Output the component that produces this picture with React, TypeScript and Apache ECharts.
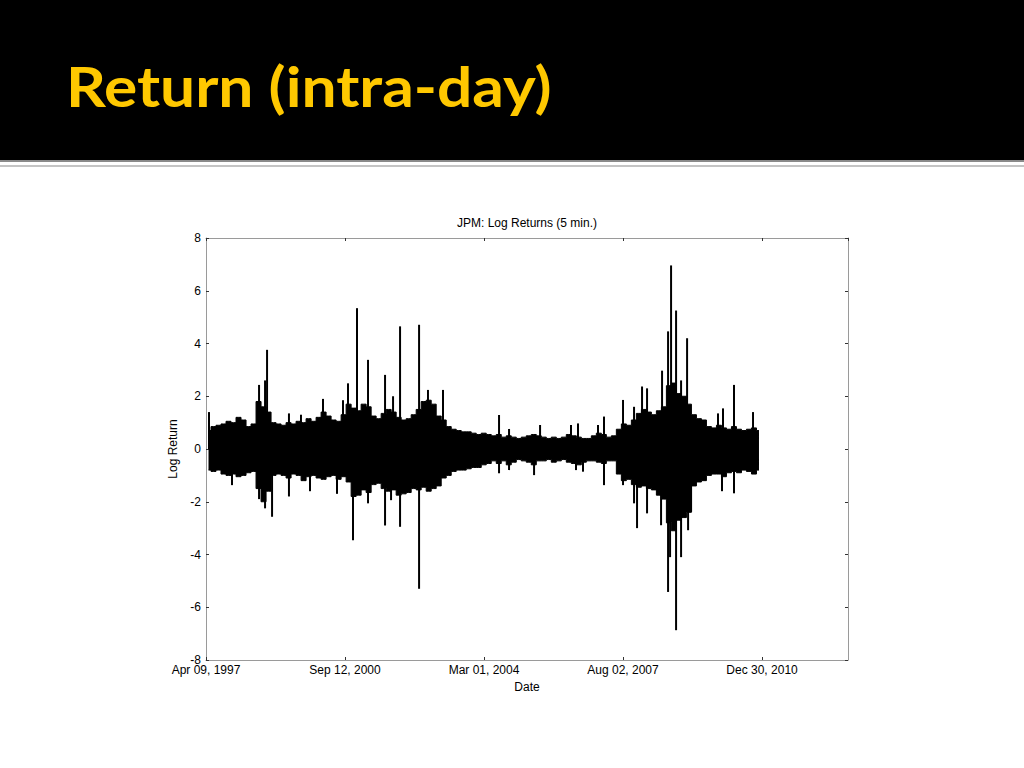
import React, { useEffect, useRef } from "react";
import * as echarts from "echarts";

// ---- data ----
const slideTitle = "Return (intra-day)";
const chartTitle = "JPM: Log Returns (5 min.)";
const xName = "Date";
const yName = "Log Return";
const xTickLabels = ["Apr 09, 1997", "Sep 12, 2000", "Mar 01, 2004", "Aug 02, 2007", "Dec 30, 2010"];
const yTicks = [-8, -6, -4, -2, 0, 2, 4, 6, 8];

// observation index per tick label, bin width (index units)
const tickStep = 1250;
const axisMax = 5773;
const binStep = 45;

// upper envelope of the dense core, one value per bin
const coreHigh = [
  0.70, 0.85, 0.90, 0.95, 1.05, 1.00, 1.20, 1.10, 0.85, 0.95,
  1.80, 1.60, 1.40, 1.00, 0.95, 0.90, 1.00, 0.95, 1.05, 1.00,
  1.15, 1.05, 1.20, 1.40, 1.25, 1.10, 1.05, 1.30, 1.70, 1.55,
  1.45, 1.70, 1.60, 1.25, 1.15, 1.35, 1.50, 1.40, 1.20, 1.10,
  1.15, 1.30, 1.50, 1.80, 1.85, 1.70, 1.25, 1.10, 0.85, 0.75,
  0.70, 0.65, 0.65, 0.60, 0.55, 0.60, 0.55, 0.50, 0.55, 0.45,
  0.50, 0.45, 0.40, 0.45, 0.50, 0.55, 0.50, 0.45, 0.40, 0.45,
  0.40, 0.45, 0.55, 0.50, 0.45, 0.40, 0.40, 0.50, 0.60, 0.55,
  0.45, 0.50, 0.75, 0.95, 0.90, 1.10, 1.35, 1.50, 1.40, 1.30,
  1.45, 1.60, 2.40, 2.50, 2.10, 2.00, 1.70, 1.30, 1.15, 1.10,
  0.85, 0.80, 0.90, 0.80, 0.75, 0.85, 0.75, 0.70, 0.75, 0.80,
  0.70,
];
// lower envelope of the dense core, one value per bin
const coreLow = [
  -0.80, -0.85, -0.80, -0.95, -1.00, -0.95, -1.05, -1.00, -0.90, -0.85,
  -1.50, -2.00, -1.60, -1.00, -0.95, -1.00, -1.10, -0.95, -1.00, -1.20,
  -1.05, -1.00, -1.10, -1.15, -1.05, -1.00, -1.15, -1.05, -1.25, -1.80,
  -1.75, -1.55, -1.65, -1.35, -1.30, -1.50, -1.60, -1.55, -1.75, -1.70,
  -1.65, -1.50, -1.55, -1.45, -1.60, -1.50, -1.40, -1.10, -1.00, -0.85,
  -0.80, -0.80, -0.75, -0.70, -0.70, -0.60, -0.55, -0.45, -0.55, -0.45,
  -0.60, -0.50, -0.40, -0.45, -0.50, -0.60, -0.45, -0.45, -0.40, -0.50,
  -0.45, -0.40, -0.50, -0.55, -0.60, -0.50, -0.45, -0.45, -0.50, -0.55,
  -0.45, -0.45, -0.95, -1.20, -1.15, -1.35, -1.45, -1.40, -1.50, -1.55,
  -1.75, -1.90, -2.80, -3.10, -2.70, -2.60, -2.40, -1.40, -1.25, -1.20,
  -1.00, -0.95, -0.95, -1.05, -0.90, -0.85, -0.90, -0.80, -0.85, -0.95,
  -0.80,
];

// isolated extreme returns: observation index and value
const spikeIndex = [
  27, 477, 531, 549, 746, 854, 1052, 1232, 1277, 1358, 1457, 1610, 1682, 1745,
  1916, 1996, 2131, 2635, 2725, 3004, 3282, 3345, 3525, 3579, 3750, 3849, 3921,
  3966, 4101, 4155, 4182, 4227, 4272, 4326, 4604, 4649, 4748, 4919,
  234, 477, 531, 594, 746, 935, 1178, 1322, 1457, 1610, 1664, 1745, 1916, 2635,
  2725, 2950, 3327, 3390, 3579, 3750, 3849, 3876, 3966, 4092, 4155, 4173, 4227,
  4272, 4335, 4362, 4640, 4748,
];
const spikeValue = [
  1.4, 2.43, 2.6, 3.76, 1.35, 1.3, 1.9, 1.85, 2.49, 5.34, 3.38, 2.81, 2.0, 4.65,
  4.71, 2.24, 2.24, 1.29, 0.76, 0.91, 0.91, 0.97, 0.91, 1.23, 1.86, 1.6, 2.37,
  2.3, 2.97, 4.46, 6.96, 5.25, 2.6, 4.2, 1.35, 1.54, 2.43, 1.4,
  -1.37, -1.9, -2.25, -2.57, -1.8, -1.6, -1.7, -3.46, -2.06, -2.9, -1.94, -2.95, -5.3, -0.92,
  -0.8, -0.99, -0.8, -0.86, -1.37, -1.37, -2.06, -3.0, -2.44, -2.89, -5.42, -4.1, -6.87,
  -4.1, -3.08, -2.38, -1.6, -1.68,
];

const FONT = "'Liberation Sans', Arial, Helvetica, sans-serif";
const TITLE_FONT_SIZE = 56;
const TITLE_WIDTH = 486;

function titleScale(): number {
  try {
    const c = document.createElement("canvas");
    const ctx = c.getContext("2d");
    if (!ctx) return 0.85;
    ctx.font = `bold ${TITLE_FONT_SIZE}px Lato`;
    const w = ctx.measureText(slideTitle).width;
    return w > 0 ? TITLE_WIDTH / w : 0.85;
  } catch (e) {
    return 0.85;
  }
}

export default function App() {
  const ref = useRef<HTMLDivElement>(null);

  useEffect(() => {
    if (!ref.current) return;
    const chart = echarts.init(ref.current, undefined, { renderer: "svg" });
    const sx = titleScale();

    const highData = coreHigh.map((v, k) => [k * binStep + binStep / 2, v]);
    const lowData = coreLow.map((v, k) => [k * binStep + binStep / 2, v]);
    const spikes = spikeIndex
      .map((x, i) => [x, spikeValue[i]])
      .sort((a, b) => a[0] - b[0]);

    const tickLabel = (v: number) => {
      const i = Math.round(v / tickStep);
      return Math.abs(v - i * tickStep) < 1e-6 && xTickLabels[i] ? xTickLabels[i] : "";
    };

    const axisLine = { show: true, onZero: false, lineStyle: { color: "#9a9a9a", width: 1 } };
    const axisTick = { show: true, inside: true, length: 3, lineStyle: { color: "#333", width: 1 } };

    chart.setOption({
      animation: false,
      backgroundColor: "#ffffff",
      graphic: [
        { type: "rect", shape: { x: 0, y: 0, width: 1024, height: 160 }, style: { fill: "#000000" } },
        { type: "rect", shape: { x: 0, y: 160, width: 1024, height: 2 }, style: { fill: "#8a8a8a" } },
        { type: "rect", shape: { x: 0, y: 165, width: 1024, height: 2 }, style: { fill: "#c4c4c4" } },
        {
          type: "text",
          x: 66,
          y: 86,
          scaleX: sx,
          style: {
            text: slideTitle,
            fill: "#FFC800",
            font: `bold ${TITLE_FONT_SIZE}px Lato, 'Open Sans', sans-serif`,
            align: "left",
            verticalAlign: "middle",
            textAlign: "left",
            textVerticalAlign: "middle",
          },
        },
        {
          type: "text",
          x: 527,
          y: 223,
          style: {
            text: chartTitle,
            fill: "#000000",
            font: `12px ${FONT}`,
            align: "center",
            verticalAlign: "middle",
            textAlign: "center",
            textVerticalAlign: "middle",
          },
        },
      ],
      grid: { left: 206, top: 238, width: 642, height: 422, containLabel: false },
      xAxis: [
        {
          type: "value",
          min: 0,
          max: axisMax,
          interval: tickStep,
          position: "bottom",
          name: xName,
          nameLocation: "middle",
          nameGap: 21,
          nameTextStyle: { fontFamily: FONT, fontSize: 12, color: "#000" },
          axisLine,
          axisTick,
          splitLine: { show: false },
          axisLabel: {
            show: true,
            margin: 4,
            fontFamily: FONT,
            fontSize: 12,
            color: "#000",
            showMaxLabel: false,
            formatter: tickLabel,
          },
        },
        {
          type: "value",
          min: 0,
          max: axisMax,
          interval: tickStep,
          position: "top",
          axisLine,
          axisTick,
          splitLine: { show: false },
          axisLabel: { show: false },
        },
      ],
      yAxis: [
        {
          type: "value",
          min: yTicks[0],
          max: yTicks[yTicks.length - 1],
          interval: 2,
          position: "left",
          name: yName,
          nameLocation: "middle",
          nameGap: 26,
          nameTextStyle: { fontFamily: FONT, fontSize: 12, color: "#000" },
          axisLine,
          axisTick,
          splitLine: { show: false },
          axisLabel: { margin: 5, fontFamily: FONT, fontSize: 12, color: "#000" },
        },
        {
          type: "value",
          min: yTicks[0],
          max: yTicks[yTicks.length - 1],
          interval: 2,
          position: "right",
          axisLine,
          axisTick,
          splitLine: { show: false },
          axisLabel: { show: false },
        },
      ],
      series: [
        {
          type: "line",
          data: highData,
          step: "middle",
          symbol: "none",
          lineStyle: { color: "#000", width: 1 },
          areaStyle: { color: "#000", opacity: 1 },
          silent: true,
          z: 2,
        },
        {
          type: "line",
          data: lowData,
          step: "middle",
          symbol: "none",
          lineStyle: { color: "#000", width: 1 },
          areaStyle: { color: "#000", opacity: 1 },
          silent: true,
          z: 2,
        },
        {
          type: "bar",
          data: spikes,
          barWidth: 2,
          itemStyle: { color: "#000" },
          silent: true,
          z: 3,
        },
      ],
    });

    return () => chart.dispose();
  }, []);

  return (
    <div
      ref={ref}
      style={{ position: "absolute", left: 0, top: 0, width: 1024, height: 768, background: "#fff" }}
    />
  );
}
